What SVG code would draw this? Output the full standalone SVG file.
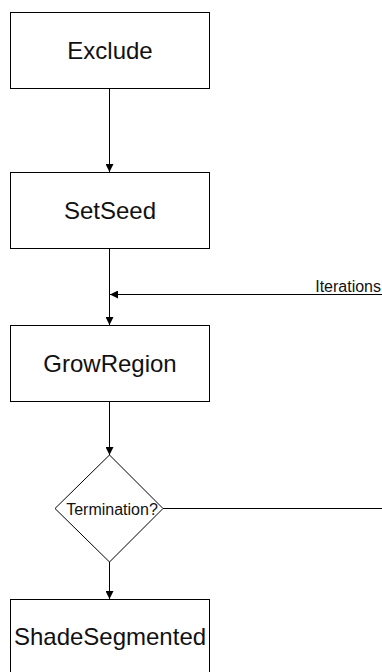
<svg xmlns="http://www.w3.org/2000/svg" width="382" height="672" viewBox="0 0 382 672">
  <style>
    .box { fill: #fff; stroke: #000; stroke-width: 1; }
    .lbl { font-family: "Liberation Sans", Arial, sans-serif; font-size: 24px; fill: #111; text-anchor: middle; }
    .small { font-family: "Liberation Sans", Arial, sans-serif; font-size: 16px; fill: #111; }
    .edge { fill: none; stroke: #000; stroke-width: 1; }
  </style>
  <defs>
    <marker id="arr" viewBox="0 0 10 10" refX="10" refY="5" markerWidth="8" markerHeight="8" markerUnits="userSpaceOnUse" orient="auto">
      <path d="M0,0 L10,5 L0,10 z" fill="#000"/>
    </marker>
  </defs>
  <rect width="382" height="672" fill="#fff"/>
  <g id="connectors">
    <line class="edge" x1="109.5" y1="88" x2="109.5" y2="172" marker-end="url(#arr)"/>
    <line class="edge" x1="109.5" y1="248" x2="109.5" y2="325" marker-end="url(#arr)"/>
    <line class="edge" x1="382" y1="294.5" x2="110" y2="294.5" marker-end="url(#arr)"/>
    <text class="small" x="381" y="292" font-size="15" text-anchor="end">Iterations</text>
    <line class="edge" x1="109.5" y1="401" x2="109.5" y2="455" marker-end="url(#arr)"/>
    <line class="edge" x1="163" y1="508.5" x2="382" y2="508.5"/>
    <line class="edge" x1="109.5" y1="562" x2="109.5" y2="599" marker-end="url(#arr)"/>
  </g>
  <g id="exclude">
    <rect class="box" x="10.5" y="12.5" width="199" height="76"/>
    <text class="lbl" x="110" y="59">Exclude</text>
  </g>
  <g id="setseed">
    <rect class="box" x="10.5" y="172.5" width="199" height="76"/>
    <text class="lbl" x="110" y="219">SetSeed</text>
  </g>
  <g id="growregion">
    <rect class="box" x="10.5" y="325.5" width="199" height="76"/>
    <text class="lbl" x="110" y="372">GrowRegion</text>
  </g>
  <g id="termination">
    <polygon class="box" points="109.5,455 163,508.5 109.5,562 55,508.5"/>
    <text class="small" x="112" y="514.5" text-anchor="middle">Termination?</text>
  </g>
  <g id="shadesegmented">
    <rect class="box" x="10.5" y="599.5" width="199" height="80"/>
    <text class="lbl" x="110" y="645">ShadeSegmented</text>
  </g>
</svg>
